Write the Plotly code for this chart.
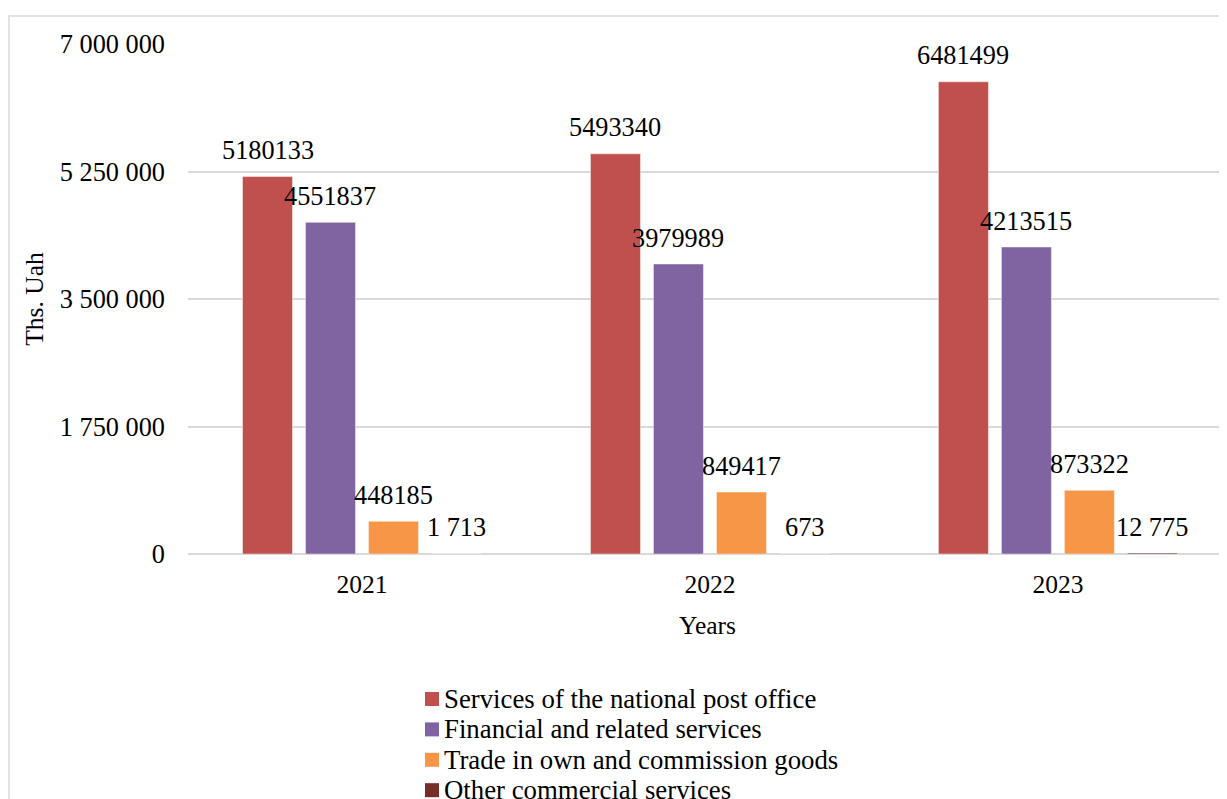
import plotly.graph_objects as go

years = ["2021", "2022", "2023"]
series_names = [
    "Services of the national post office",
    "Financial and related services",
    "Trade in own and commission goods",
    "Other commercial services",
]
post_office = [5180133, 5493340, 6481499]
financial = [4551837, 3979989, 4213515]
trade = [448185, 849417, 873322]
other = [1713, 673, 12775]

post_labels = ["5180133", "5493340", "6481499"]
financial_labels = ["4551837", "3979989", "4213515"]
trade_labels = ["448185", "849417", "873322"]
other_labels = ["1 713", "673", "12 775"]

y_tickvals = [0, 1750000, 3500000, 5250000, 7000000]
y_ticktext = ["0", "1 750 000", "3 500 000", "5 250 000", "7 000 000"]

colors = ["#C0504D", "#8064A2", "#F79646", "#772C2A"]
values = [post_office, financial, trade, other]
labels = [post_labels, financial_labels, trade_labels, other_labels]

FONT = "Liberation Serif, Times New Roman, serif"
W, H = 1227, 799
PAGE_OFF = 8  # default body margin of the html page
# plot area in page pixels: x 188..1227, y 44..554
ML = 188 - PAGE_OFF
MT = 44 - PAGE_OFF
MR = PAGE_OFF
MB = H - (554 - PAGE_OFF)
BARGAP = 0.276
XMIN, XMAX = -0.5, 2.486
plot_w = W - ML - MR
plot_h = H - MT - MB


def px_x(px):
    return (px - PAGE_OFF - ML) / plot_w


def px_y(py):
    return (H - MB - (py - PAGE_OFF)) / plot_h


fig = go.Figure()
for name, vals, col in zip(series_names, values, colors):
    fig.add_trace(go.Bar(
        x=years, y=vals, name=name, showlegend=False,
        marker=dict(color=col, line=dict(color="rgba(255,255,255,0.45)", width=1)),
    ))

# data labels placed from bar geometry
cat_px = plot_w / (XMAX - XMIN)
slot_px = cat_px * (1 - BARGAP) / len(values)
annotations = []
for i, (vals, labs) in enumerate(zip(values, labels)):
    offset = (i - (len(values) - 1) / 2) * slot_px
    for k, (v, lab) in enumerate(zip(vals, labs)):
        annotations.append(dict(
            x=k, y=v, xref="x", yref="y", text=lab, showarrow=False,
            xshift=offset, yshift=26, yanchor="middle",
            font=dict(family=FONT, size=26.3, color="#000000"),
        ))

# chart-area frame
shapes = [dict(
    type="rect", xref="paper", yref="paper",
    x0=px_x(9), x1=1.05, y0=-0.6, y1=px_y(16),
    line=dict(color="#D9D9D9", width=1.5), fillcolor="rgba(0,0,0,0)", layer="below",
)]
# legend (bottom, Excel-style: small square + text)
LEG_X0, LEG_Y0, LEG_DY, SQ = 425, 699, 30.4, 14
for j, (name, col) in enumerate(zip(series_names, colors)):
    cy = LEG_Y0 + j * LEG_DY
    shapes.append(dict(
        type="rect", xref="paper", yref="paper",
        x0=px_x(LEG_X0), x1=px_x(LEG_X0 + SQ),
        y0=px_y(cy + SQ / 2), y1=px_y(cy - SQ / 2),
        line=dict(width=0), fillcolor=col,
    ))
    annotations.append(dict(
        x=px_x(LEG_X0 + SQ + 3), y=px_y(cy), xref="paper", yref="paper",
        text=name, showarrow=False, xanchor="left", yanchor="middle",
        font=dict(family=FONT, size=26.8, color="#000000"),
    ))

fig.update_layout(
    width=W, height=H,
    margin=dict(l=ML, r=MR, t=MT, b=MB, autoexpand=False),
    paper_bgcolor="white", plot_bgcolor="white",
    barmode="group", bargap=BARGAP, bargroupgap=0.206,
    font=dict(family=FONT, size=26, color="#000000"),
    annotations=annotations,
    shapes=shapes,
    showlegend=False,
)
fig.update_xaxes(
    type="category",
    range=[XMIN, XMAX], showgrid=False, showline=False, zeroline=False,
    ticks="", ticklabelstandoff=12,
    tickfont=dict(family=FONT, size=25.5),
    title=dict(text="Years", standoff=18, font=dict(family=FONT, size=25.5)),
)
fig.update_yaxes(
    range=[0, 7000000], tickvals=y_tickvals, ticktext=y_ticktext,
    showgrid=True, gridcolor="#D9D9D9", gridwidth=1.5,
    zeroline=True, zerolinecolor="#D9D9D9", zerolinewidth=2,
    showline=False, ticks="", ticklabelstandoff=22,
    tickfont=dict(family=FONT, size=26.3),
    title=dict(text="Ths. Uah", standoff=8, font=dict(family=FONT, size=25.5)),
)

fig.write_html("out.html")
